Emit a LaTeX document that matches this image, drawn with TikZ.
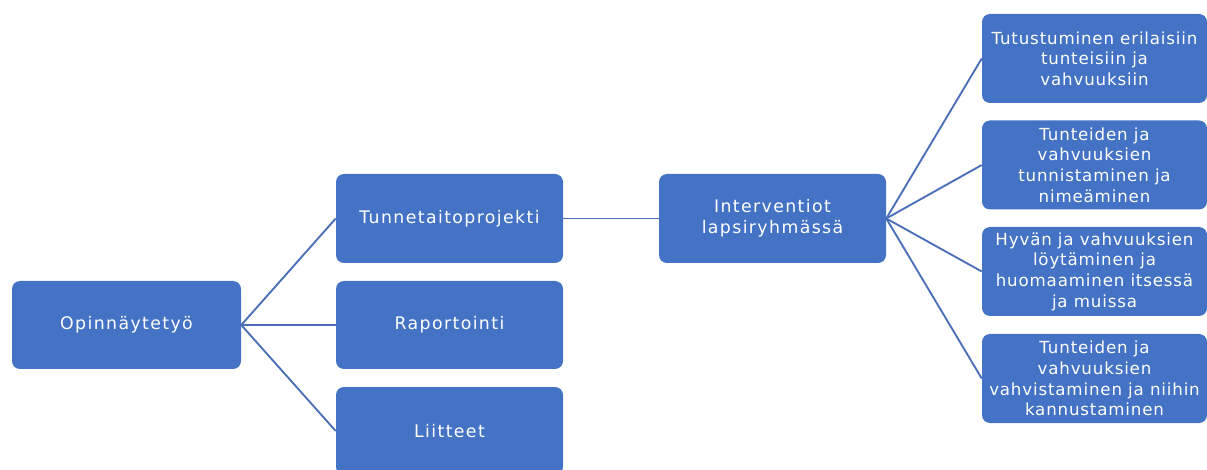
\documentclass[tikz,border=0pt]{standalone}
\usepackage{fontspec}
\setmainfont[LetterSpace=8]{DejaVu Sans}
\newfontfamily\rightfont[LetterSpace=5]{DejaVu Sans}
\definecolor{boxblue}{HTML}{4472C4}
\definecolor{lineblue}{HTML}{4A6FB8}
\begin{document}
\begin{tikzpicture}[x=0.75pt,y=-0.75pt,
  box/.style={draw=none,fill=boxblue,rounded corners=6pt,text=white,align=center,
    font=\fontsize{13}{15.5}\selectfont,inner sep=0pt},
  rbox/.style={box,font=\rightfont\fontsize{12.5}{15.5}\selectfont,
    minimum width=225*0.75pt,minimum height=89*0.75pt},
  conn/.style={draw=lineblue,line width=1.4pt}]
\useasboundingbox (0,0) rectangle (1207,470);
\begin{scope}
\clip (0,0) rectangle (1207,470);
\node[box,minimum width=229*0.75pt,minimum height=88*0.75pt] (op) at (126.5,325) {Opinnäytetyö};
\node[box,minimum width=227*0.75pt,minimum height=89*0.75pt] (tp) at (449.5,218.5) {Tunnetaitoprojekti};
\node[box,minimum width=227*0.75pt,minimum height=88*0.75pt] (rap) at (449.5,325) {Raportointi};
\node[box,minimum width=227*0.75pt,minimum height=88*0.75pt] (lii) at (449.5,431) {Liitteet};
\node[box,minimum width=227*0.75pt,minimum height=89*0.75pt] (int) at (772.5,218.5) {Interventiot\\lapsiryhmässä};
\node[rbox] (r1) at (1094.5,58.5) {Tutustuminen erilaisiin\\tunteisiin ja\\vahvuuksiin};
\node[rbox] (r2) at (1094.5,165) {Tunteiden ja\\vahvuuksien\\tunnistaminen ja\\nimeäminen};
\node[rbox] (r3) at (1094.5,271.5) {Hyvän ja vahvuuksien\\löytäminen ja\\huomaaminen itsessä\\ja muissa};
\node[rbox] (r4) at (1094.5,378.5) {Tunteiden ja\\vahvuuksien\\vahvistaminen ja niihin\\kannustaminen};
\coordinate (opE) at (op.east);
\coordinate (intE) at (int.east);
\draw[conn] (opE) -- (tp.west);
\draw[conn] (opE) -- (rap.west);
\draw[conn] (opE) -- (lii.west);
\draw[conn] (tp.east) -- (int.west);
\draw[conn] (intE) -- (r1.west);
\draw[conn] (intE) -- (r2.west);
\draw[conn] (intE) -- (r3.west);
\draw[conn] (intE) -- (r4.west);
\end{scope}
\end{tikzpicture}
\end{document}
